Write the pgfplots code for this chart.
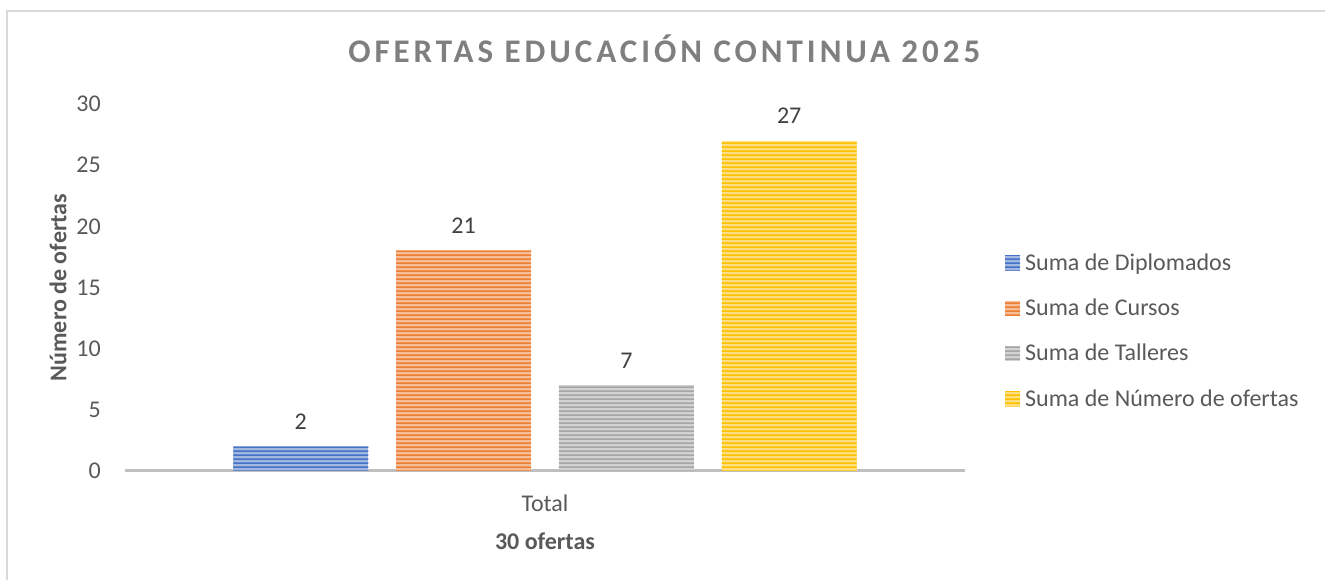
\documentclass[border=0pt]{standalone}
\usepackage{fontspec}
\setmainfont{Carlito}
\usepackage{pgfplots}
\pgfplotsset{compat=1.18}
\usetikzlibrary{patterns.meta}

\definecolor{dipl}{HTML}{4472C4}
\definecolor{curs}{HTML}{ED7D31}
\definecolor{tall}{HTML}{A5A5A5}
\definecolor{ofer}{HTML}{FFC000}
\definecolor{tickc}{HTML}{595959}
\definecolor{labc}{HTML}{404040}
\definecolor{ttlc}{HTML}{7F7F7F}
\definecolor{framec}{HTML}{D9D9D9}
\definecolor{axisc}{HTML}{BFBFBF}

% wide tile so that no vertical seams show inside a bar
\pgfdeclarepattern{
  name=hstripes,
  type=uncolored,
  bottom left={\pgfpoint{0pt}{0pt}},
  top right={\pgfpoint{300pt}{4pt}},
  tile size={\pgfpoint{300pt}{4pt}},
  code={
    \pgfpathrectangle{\pgfpoint{-1pt}{0pt}}{\pgfpoint{302pt}{2pt}}
    \pgfusepath{fill}
  }
}

\newcommand{\fs}{\fontsize{24}{28}\selectfont}
\pgfplotsset{stripe/.style={fill=#1!50, draw=none,
  postaction={pattern=hstripes, pattern color=#1}}}

\begin{document}
\begin{tikzpicture}[x=1pt,y=1pt]
  \useasboundingbox (0,0) rectangle (1325,580);
  \draw[framec, line width=1.5pt] (7,0) -- (7,569) -- (1325,569);
  \begin{axis}[
    at={(125pt,109pt)}, anchor=south west,
    scale only axis, width=840pt, height=367pt,
    xmin=-1, xmax=1, ymin=0, ymax=30,
    ybar=27.8pt, bar width=135pt,
    axis lines*=left,
    y axis line style={draw=none},
    x axis line style={draw=axisc, line width=3pt},
    xtick={0}, xticklabels={Total},
    ytick={0,5,...,30},
    major tick length=0pt,
    /pgf/number format/assume math mode=true,
    tick label style={font=\fs, text=tickc, inner sep=0pt},
    yticklabel style={anchor=east, xshift=-24pt},
    xticklabel style={anchor=center, yshift=-32pt},
    xlabel={\bfseries 30 ofertas}, ylabel={\bfseries Número de ofertas},
    label style={font=\fs, text=tickc},
    xlabel style={at={(rel axis cs:0.5,-0.1907)}, anchor=center},
    ylabel style={at={(rel axis cs:-0.0798,0.5)}, anchor=center},
    title={OFERTAS EDUCACIÓN CONTINUA 2025},
    title style={font=\fontsize{33}{38}\selectfont\bfseries\addfontfeature{LetterSpace=12}, text=ttlc,
      at={(rel axis cs:0.642,1.135)}, anchor=center},
    point meta=explicit symbolic,
    nodes near coords,
    every node near coord/.append style={font=\fs, text=labc, inner sep=0pt, anchor=south, yshift=17pt},
    legend image code/.code={\path[#1] (0pt,-7.5pt) rectangle (15pt,7.5pt);},
    legend cell align=left,
    legend style={at={(rel axis cs:1.044,0.382)}, anchor=west, draw=none, fill=none,
      font=\fs, text=tickc, row sep=27pt, column sep=5pt,
      nodes={inner sep=0pt}},
    clip=false,
  ]
    \addplot[stripe=dipl] coordinates {(0,2) [2]};
    \addplot[stripe=curs] coordinates {(0,18) [21]};
    \addplot[stripe=tall] coordinates {(0,7) [7]};
    \addplot[stripe=ofer] coordinates {(0,27) [27]};
    \legend{Suma de Diplomados, Suma de Cursos, Suma de Talleres, Suma de Número de ofertas}
  \end{axis}
\end{tikzpicture}
\end{document}
